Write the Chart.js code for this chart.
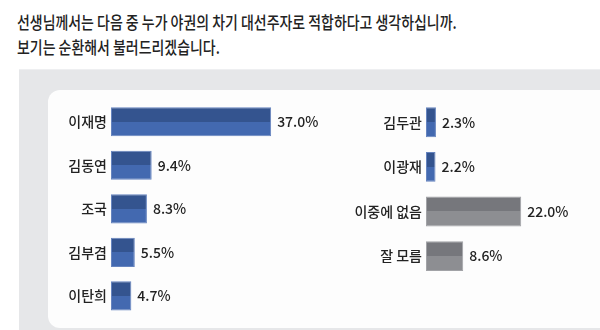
<!DOCTYPE html>
<html>
<head>
<meta charset="utf-8">
<script src="https://cdn.jsdelivr.net/npm/chart.js@4"></script>
<style>
  html, body { margin: 0; padding: 0; background: #fff; }
  #wrap { position: relative; width: 600px; height: 330px; overflow: hidden; font-family: "Noto Sans CJK KR", sans-serif; }
  #title { position: absolute; left: 17px; top: 9px; font-size: 17px; font-weight: 500; line-height: 25px; color: #222; white-space: nowrap; transform: scaleX(0.82); transform-origin: left top; }
  #gray { position: absolute; left: 19px; top: 69px; width: 600px; height: 280px; background: #e6e7e9; border-top: 1px solid #eeeff1; }
  #panel { position: absolute; left: 48px; top: 90px; width: 600px; height: 238px; background: #fdfdfd; border-radius: 12px; }
  canvas { position: absolute; top: 0; }
  #left { left: 0; }
  #right { left: 330px; }
</style>
</head>
<body>
<div id="wrap">
  <div id="title">선생님께서는 다음 중 누가 야권의 차기 대선주자로 적합하다고 생각하십니까.<br>보기는 순환해서 불러드리겠습니다.</div>
  <div id="gray"></div>
  <div id="panel"></div>
  <canvas id="left" width="330" height="330"></canvas>
  <canvas id="right" width="270" height="330"></canvas>
</div>
<script>
const leftNames = ["이재명", "김동연", "조국", "김부겸", "이탄희"];
const leftValues = [37.0, 9.4, 8.3, 5.5, 4.7];
const rightNames = ["김두관", "이광재", "이중에 없음", "잘 모름"];
const rightValues = [2.3, 2.2, 22.0, 8.6];
const rightKinds = ["blue", "blue", "gray", "gray"];

const tones = {
  blue: { top: "#34548f", bottom: "#4369b0", edge: "#6684bf" },
  gray: { top: "#76777c", bottom: "#8d8e92", edge: "#a2a3a7" }
};

function twoTone(kinds) {
  return function (c) {
    const t = tones[kinds[c.dataIndex]] || tones.blue;
    const chart = c.chart;
    const y = chart.scales.y;
    if (!chart.chartArea || !y) return t.bottom;
    const mid = y.getPixelForValue(c.dataIndex);
    const g = chart.ctx.createLinearGradient(0, mid - 15, 0, mid + 15);
    g.addColorStop(0, t.top);
    g.addColorStop(0.5, t.top);
    g.addColorStop(0.5, t.bottom);
    g.addColorStop(1, t.bottom);
    return g;
  };
}

const valueLabels = {
  id: "valueLabels",
  afterDatasetsDraw(chart) {
    const ctx = chart.ctx;
    const meta = chart.getDatasetMeta(0);
    const data = chart.data.datasets[0].data;
    ctx.save();
    ctx.font = "500 14px 'Noto Sans CJK KR', sans-serif";
    ctx.fillStyle = "#222";
    ctx.textAlign = "left";
    ctx.textBaseline = "middle";
    meta.data.forEach((bar, i) => {
      ctx.fillText(data[i].toFixed(1) + "%", bar.x + 6, bar.y);
    });
    ctx.restore();
  }
};

function makeChart(id, names, values, kinds, axisWidth, xMax, padBottom) {
  return new Chart(document.getElementById(id), {
    type: "bar",
    data: {
      labels: names,
      datasets: [{
        data: values,
        backgroundColor: twoTone(kinds),
        borderColor: (c) => (tones[kinds[c.dataIndex]] || tones.blue).edge,
        borderWidth: 1,
        borderSkipped: false,
        categoryPercentage: 1,
        barPercentage: 0.67
      }]
    },
    options: {
      indexAxis: "y",
      responsive: false,
      animation: false,
      events: [],
      layout: { padding: { top: 100, bottom: padBottom, left: 0, right: 0 } },
      plugins: { legend: { display: false }, tooltip: { enabled: false } },
      scales: {
        x: { display: false, min: 0, max: xMax },
        y: {
          border: { display: false },
          grid: { display: false, drawTicks: false },
          ticks: {
            padding: 4,
            color: "#222",
            font: { family: "'Noto Sans CJK KR', sans-serif", size: 14, weight: "500" }
          },
          afterFit(scale) { scale.width = axisWidth; }
        }
      }
    },
    plugins: [valueLabels]
  });
}

makeChart("left", leftNames, leftValues, leftNames.map(() => "blue"), 111, 50.6, 7);
makeChart("right", rightNames, rightValues, rightKinds, 96, 40.2, 51.6);
</script>
</body>
</html>
